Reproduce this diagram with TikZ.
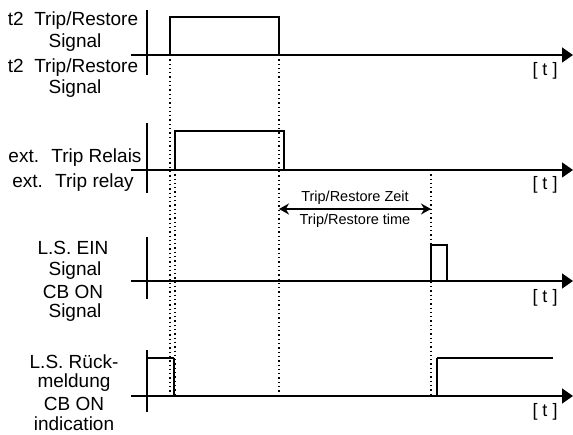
\documentclass[tikz,border=0pt]{standalone}
\usepackage{fontspec}
\setmainfont{Liberation Sans}
\usetikzlibrary{arrows.meta, positioning}

\begin{document}
\begin{tikzpicture}[
    x=1pt, y=-1pt,
    axis/.style={line width=1.4pt, -{Triangle[length=11pt, width=15pt]}},
    yaxis/.style={line width=1.4pt},
    signal/.style={line width=1.6pt},
    marker/.style={line width=1.3pt, dash pattern=on 1.3pt off 3pt},
    lbl/.style={font=\fontsize{19}{22}\selectfont, inner sep=0pt},
    tlbl/.style={font=\fontsize{18}{20}\selectfont, inner sep=0pt},
    dim/.style={line width=1.4pt, {Stealth[length=10pt, width=11pt]}-{Stealth[length=10pt, width=11pt]}},
    dimlbl/.style={font=\fontsize{14.5}{16}\selectfont, inner sep=0pt}
]
\useasboundingbox (0,0) rectangle (573,435);

% Axes
\draw[axis] (131,55) -- (573,55);
\draw[yaxis] (147,10) -- (147,75);
\draw[axis] (131,170) -- (573,170);
\draw[yaxis] (147,123) -- (147,193);
\draw[axis] (131,281) -- (573,281);
\draw[yaxis] (147,237) -- (147,299);
\draw[axis] (131,396) -- (573,396);
\draw[yaxis] (147,350) -- (147,412);

% Time markers
\draw[marker] (170,55) -- (170,396);
\draw[marker] (175,170) -- (175,396);
\draw[marker] (279,55) -- (279,396);
\draw[marker] (431,170) -- (431,396);

% Signals
\draw[signal] (170,55) -- (170,17) -- (279,17) -- (279,55);
\draw[signal] (175,170) -- (175,131) -- (284,131) -- (284,170);
\draw[signal] (431,281) -- (431,245) -- (447,245) -- (447,281);
\draw[line width=1.2pt] (147,358) -- (174,358);
\draw[signal] (174,358) -- (174,396) -- (437,396) -- (437,358);
\draw[line width=1.2pt] (437,358) -- (553,358);

% Trip/Restore time
\coordinate (tstart) at (279,209);
\coordinate (tend) at (431,209);
\draw[dim] (tstart) -- (tend);
\node[dimlbl] (zeit) at (355,198) {Trip/Restore Zeit};
\node[dimlbl] (time) at (355,221) {Trip/Restore time};

% Labels
\node[lbl] (sig1de) at (73,21) {t2~ Trip/Restore};
\node[lbl] (sig1dx) at (75,43) {Signal};
\node[lbl] (sig1en) at (73,68) {t2~ Trip/Restore};
\node[lbl] (sig1ex) at (75,89) {Signal};
\node[lbl] (sig2de) at (75,158) {ext.~ Trip Relais};
\node[lbl] (sig2en) at (73,183) {ext.~ Trip relay};
\node[lbl] (sig3de) at (73,248) {L.S. EIN};
\node[lbl] (sig3dx) at (75,271) {Signal};
\node[lbl] (sig3en) at (73,292) {CB ON};
\node[lbl] (sig3ex) at (75,313) {Signal};
\node[lbl] (sig4de) at (74,362) {L.S. Rück-};
\node[lbl] (sig4dx) at (74,383) {meldung};
\node[lbl] (sig4en) at (74,404) {CB ON};
\node[lbl] (sig4ex) at (74,424) {indication};

% Time axis labels
\foreach \ya/\nm in {71/t1, 185/t2, 298/t3, 412/t4}
    \node[tlbl] (\nm) at (545,\ya) {[ t ]};

\end{tikzpicture}
\end{document}
